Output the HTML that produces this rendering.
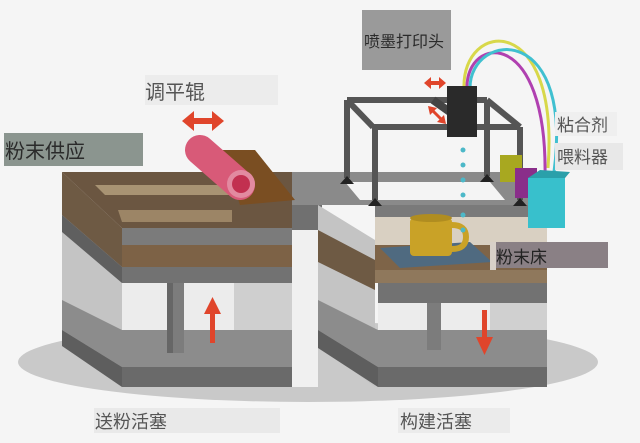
<!DOCTYPE html>
<html><head><meta charset="utf-8"><style>
html,body{margin:0;padding:0;background:#f5f5f5;}
svg{display:block}
text{font-family:"Liberation Sans","Noto Sans CJK SC",sans-serif;}
</style></head><body>
<svg width="640" height="443" viewBox="0 0 640 443" xmlns="http://www.w3.org/2000/svg">
<rect width="640" height="443" fill="#f5f5f5"/>
<!-- shadow -->
<ellipse cx="308" cy="362" rx="290" ry="40" fill="#c9c9c9"/>

<!-- table top surface -->
<polygon points="62,172 540,172 547,205 292,205" fill="#8a8a8a"/>
<!-- LEFT BOX -->
<polygon points="62,172 122,228 122,387 62,340" fill="#c4c4c4"/>
<polygon points="62,172 122,228 122,267 62,215" fill="#6e5a44"/>
<polygon points="62,215 122,267 122,283 62,232" fill="#5f5f5f"/>
<polygon points="62,172 292,172 292,228 122,228" fill="#6b5641"/>
<polygon points="95,185 230,185 240,195 105,195" fill="#a89373"/>
<polygon points="118,210 232,210 232,222 122,222" fill="#9c8566"/>
<rect x="122" y="228" width="170" height="17" fill="#7b7b7b"/>
<rect x="122" y="245" width="170" height="22" fill="#7d6246"/>
<rect x="122" y="267" width="170" height="16" fill="#727272"/>
<rect x="122" y="283" width="170" height="47" fill="#ececec"/>
<rect x="234" y="283" width="58" height="47" fill="#cfcfcf"/>
<polygon points="62,300 122,330 292,330 292,367 122,367 62,330" fill="#8c8c8c"/>
<polygon points="62,330 122,367 122,387 62,346" fill="#5e5e5e"/>
<rect x="122" y="367" width="170" height="20" fill="#6a6a6a"/>
<rect x="167" y="283" width="17" height="70" fill="#7c7c7c"/>
<rect x="167" y="283" width="6" height="70" fill="#666"/>
<!-- up arrow -->
<rect x="210" y="310" width="5" height="33" fill="#e0452b"/>
<polygon points="204,314 212.5,297 221,314" fill="#e0452b"/>

<!-- middle bar -->
<rect x="292" y="205" width="30" height="25" fill="#707070"/>
<rect x="292" y="230" width="26" height="157" fill="#f0f0f0"/>

<!-- RIGHT BOX -->
<polygon points="318,205 375,240 375,387 318,345" fill="#c4c4c4"/>
<polygon points="318,230 375,260 375,290 318,262" fill="#6e5a44"/>
<rect x="375" y="205" width="172" height="12" fill="#7a7a7a"/>
<rect x="375" y="217" width="172" height="28" fill="#d9d0c2"/>
<rect x="375" y="245" width="172" height="25" fill="#7e6448"/>
<rect x="375" y="270" width="172" height="13" fill="#8f785c"/>
<rect x="378" y="283" width="169" height="20" fill="#727272"/>
<rect x="378" y="303" width="169" height="27" fill="#ececec"/>
<rect x="490" y="303" width="57" height="27" fill="#d0d0d0"/>
<polygon points="318,300 378,330 547,330 547,367 378,367 318,330" fill="#8c8c8c"/>
<polygon points="318,330 378,367 378,387 318,348" fill="#5e5e5e"/>
<rect x="378" y="367" width="169" height="20" fill="#6a6a6a"/>
<rect x="427" y="303" width="14" height="47" fill="#7c7c7c"/>
<!-- down arrow -->
<rect x="482" y="310" width="5" height="30" fill="#e0452b"/>
<polygon points="476,337 484.5,355 493,337" fill="#e0452b"/>
<!-- opening -->
<polygon points="345,182 490,182 505,200 360,200" fill="#f4f4f4"/>
<!-- blue plate + mug -->
<polygon points="380,248 470,242 492,262 400,268" fill="#4f6a80"/>
<rect x="410" y="218" width="42" height="38" rx="4" fill="#c9a227"/>
<ellipse cx="431" cy="218" rx="21" ry="4" fill="#b08d20"/>
<path d="M452,225 q14,0 14,12 q0,12 -14,12" fill="none" stroke="#c9a227" stroke-width="6"/>

<!-- frame -->
<g stroke="#555" stroke-width="6" fill="none">
<line x1="347" y1="100" x2="487" y2="100"/>
<line x1="373" y1="127" x2="520" y2="127"/>
<line x1="347" y1="100" x2="373" y2="127"/>
<line x1="487" y1="100" x2="520" y2="127"/>
<line x1="347" y1="100" x2="347" y2="178"/>
<line x1="375" y1="127" x2="375" y2="200"/>
<line x1="487" y1="100" x2="487" y2="176"/>
<line x1="520" y1="127" x2="520" y2="200"/>
</g>
<g fill="#222">
<polygon points="340,184 347,176 354,184"/>
<polygon points="368,206 375,198 382,206"/>
<polygon points="480,182 487,174 494,182"/>
<polygon points="513,206 520,198 527,206"/>
</g>
<!-- tubes -->
<path d="M464,88 C462,20 560,10 548,168" fill="none" stroke="#d8d84a" stroke-width="3"/>
<path d="M467,88 C466,35 548,25 545,178" fill="none" stroke="#b040b0" stroke-width="3"/>
<path d="M470,88 C470,30 580,20 552,185" fill="none" stroke="#40c0d0" stroke-width="3"/>
<!-- feeder boxes -->
<rect x="500" y="155" width="22" height="27" fill="#a8a820"/>
<rect x="515" y="168" width="22" height="30" fill="#8a2e8a"/>
<rect x="528" y="178" width="37" height="50" fill="#38c0cc"/>
<polygon points="528,178 540,170 570,172 565,178" fill="#2aa0aa"/>
<!-- head -->
<line x1="433" y1="100" x2="475" y2="130" stroke="#444" stroke-width="8"/>
<rect x="447" y="86" width="30" height="51" fill="#2a2a2a"/>
<g fill="#4cb8c8">
<circle cx="463" cy="150" r="2.5"/><circle cx="463" cy="165" r="2.5"/><circle cx="463" cy="180" r="2.5"/><circle cx="463" cy="195" r="2.5"/><circle cx="463" cy="215" r="2.5"/><circle cx="463" cy="230" r="2.5"/>
</g>
<!-- small head arrows -->
<g fill="#e0452b">
<rect x="428" y="81" width="14" height="4"/><polygon points="424,83 431,77 431,89"/><polygon points="446,83 439,77 439,89"/>
<line x1="432" y1="110" x2="442" y2="120" stroke="#e0452b" stroke-width="3"/>
<polygon points="428,106 437,108 430,115"/><polygon points="446,124 437,122 444,115"/>
</g>

<!-- roller + powder wedge -->
<polygon points="222,150 255,150 295,200 240,205" fill="#7a4e22"/>
<line x1="200" y1="150" x2="240" y2="185" stroke="#d85a78" stroke-width="30" stroke-linecap="round"/>
<circle cx="241" cy="184" r="14" fill="#e28aa0"/>
<circle cx="241" cy="184" r="9" fill="#c23050"/>

<!-- big double arrow -->
<rect x="190" y="118" width="26" height="6" fill="#e0452b"/>
<polygon points="182,121 194,111 194,131" fill="#e0452b"/>
<polygon points="224,121 212,111 212,131" fill="#e0452b"/>

<!-- labels -->
<rect x="145" y="75" width="133" height="30" fill="#ececec"/>
<text x="145" y="99" font-size="20" fill="#555">调平辊</text>
<rect x="4" y="133" width="139" height="33" fill="#8b958f"/>
<text x="5" y="158" font-size="20" fill="#2a2a2a">粉末供应</text>
<rect x="362" y="10" width="89" height="60" fill="#9a9a9a"/>
<text x="364" y="47" font-size="16" fill="#2a2a2a">喷墨打印头</text>
<rect x="555" y="112" width="62" height="24" fill="#efefef"/>
<text x="557" y="131" font-size="17" fill="#555">粘合剂</text>
<rect x="555" y="143" width="68" height="27" fill="#e8e8e8"/>
<text x="557" y="163" font-size="17" fill="#555">喂料器</text>
<rect x="490" y="242" width="118" height="26" fill="#8a8085"/>
<rect x="490" y="242" width="6" height="28" fill="#d8d0c8"/>
<text x="496" y="263" font-size="17" fill="#222">粉末床</text>
<rect x="94" y="408" width="186" height="25" fill="#e9e9e9"/>
<text x="95" y="428" font-size="18" fill="#555">送粉活塞</text>
<rect x="398" y="408" width="112" height="25" fill="#ebebeb"/>
<text x="400" y="428" font-size="18" fill="#555">构建活塞</text>
</svg>
</body></html>
